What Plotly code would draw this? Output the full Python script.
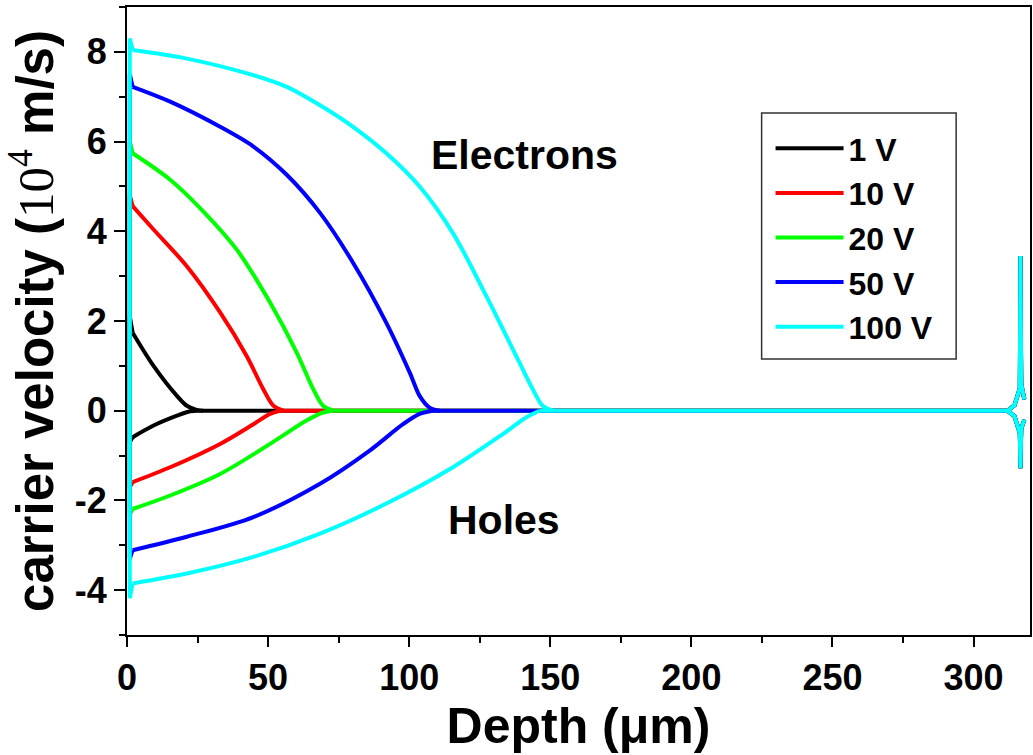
import plotly.graph_objects as go

labels = ["1 V", "10 V", "20 V", "50 V", "100 V"]
colors = ["#000000", "#ff0000", "#00ff00", "#0000ff", "#00ffff"]

# Electrons (depth in um, velocity in 1e4 m/s)
e1_x = [2.0, 9.4, 17.7, 21.2, 24.7, 27]
e1_y = [1.74, 1.0, 0.33, 0.11, 0.02, 0]
e10_x = [2.0, 9.4, 21.2, 33, 42.4, 48.3, 51.9, 55.4]
e10_y = [4.56, 4.04, 3.22, 2.19, 1.22, 0.48, 0.11, 0]
e20_x = [2.0, 15.3, 27.1, 38.9, 50.7, 60.1, 66, 69.5, 73.1]
e20_y = [5.74, 5.15, 4.44, 3.59, 2.41, 1.30, 0.48, 0.11, 0]
e50_x = [2.0, 15.3, 33, 44.8, 56.6, 68.4, 80.1, 91.9, 100.2, 103.7, 107.2, 110.8]
e50_y = [7.22, 6.89, 6.33, 5.89, 5.26, 4.41, 3.30, 1.96, 0.85, 0.33, 0.07, 0]
e100_x = [2.0, 21.2, 44.8, 56.6, 68.4, 80.1, 91.9, 103.7, 115.5, 127.3, 139.1, 143.8, 147.3, 150.9]
e100_y = [8.04, 7.85, 7.48, 7.22, 6.81, 6.33, 5.74, 5.0, 3.96, 2.56, 1.07, 0.48, 0.11, 0]

# Holes
h1_x = [2.0, 9.4, 17.7, 22.4, 25.9]
h1_y = [-0.59, -0.33, -0.11, -0.01, 0]
h10_x = [2.0, 15.3, 33, 44.8, 50.7, 54.2]
h10_y = [-1.59, -1.26, -0.74, -0.30, -0.07, 0]
h20_x = [2.0, 15.3, 33, 50.7, 63.6, 69.5, 73.1]
h20_y = [-2.19, -1.89, -1.41, -0.74, -0.22, -0.04, 0]
h50_x = [2.0, 21.2, 44.8, 68.4, 86, 97.8, 103.7, 108.4]
h50_y = [-3.11, -2.81, -2.37, -1.63, -0.89, -0.30, -0.07, 0]
h100_x = [2.0, 21.2, 44.8, 68.4, 91.9, 115.5, 133.2, 141.4, 146.1]
h100_y = [-3.85, -3.63, -3.26, -2.74, -2.07, -1.26, -0.52, -0.15, 0]

# values right at the front surface
edge_x = 1.0
e_edge = [2.1, 4.8, 6.0, 7.5, 8.3]
h_edge = [-0.7, -1.7, -2.3, -3.3, -4.18]

# end of flat region and back-contact feature
flat_end = 312
spike_x = [312, 314.5, 316.4, 316.6, 316.9, 318]
spike_e = [0, 0.12, 0.5, 3.45, 0.6, 0.25]
spike_h = [0, -0.12, -0.5, -1.28, -0.4, -0.2]

ex = [e1_x, e10_x, e20_x, e50_x, e100_x]
ey = [e1_y, e10_y, e20_y, e50_y, e100_y]
hx = [h1_x, h10_x, h20_x, h50_x, h100_x]
hy = [h1_y, h10_y, h20_y, h50_y, h100_y]

fig = go.Figure()
for i, lab in enumerate(labels):
    c = colors[i]
    fx = ([hx[i][0], edge_x, edge_x, ex[i][0], None]
          + [min(ex[i][-1], hx[i][-1]), flat_end, None]
          + spike_x[::-1] + spike_x)
    fy = ([hy[i][0], h_edge[i], e_edge[i], ey[i][0], None]
          + [0, 0, None]
          + spike_h[::-1] + spike_e)
    fig.add_trace(go.Scatter(x=fx, y=fy, mode="lines", showlegend=False, hoverinfo="skip",
                             legendgroup=lab, line=dict(color=c, width=4)))
    fig.add_trace(go.Scatter(x=hx[i], y=hy[i], mode="lines", showlegend=False, legendgroup=lab,
                             name=lab, line=dict(color=c, width=4, shape="spline", smoothing=0.9)))
    fig.add_trace(go.Scatter(x=ex[i], y=ey[i], mode="lines", name=lab, legendgroup=lab,
                             line=dict(color=c, width=4, shape="spline", smoothing=0.9)))

font_family = "Liberation Sans, Arial, sans-serif"

# legend frame in paper coordinates
fig.add_shape(type="rect", xref="paper", yref="paper",
              x0=0.7028, x1=0.9182, y0=0.4395, y1=0.8312,
              line=dict(color="#333333", width=1.5), fillcolor="rgba(0,0,0,0)")

fig.update_layout(
    width=1033, height=755,
    margin=dict(l=127, r=1, t=7, b=120),
    paper_bgcolor="white", plot_bgcolor="white",
    font=dict(family=font_family, color="black"),
    showlegend=True,
    legend=dict(x=0.7127, y=0.8185, xanchor="left", yanchor="top",
                borderwidth=0, bgcolor="rgba(0,0,0,0)", tracegroupgap=0,
                font=dict(size=32, family=font_family, weight="bold"),
                itemwidth=68),
    annotations=[
        dict(x=140.7, y=5.71, xref="x", yref="y", text="<b>Electrons</b>", showarrow=False,
             font=dict(size=41)),
        dict(x=133.7, y=-2.44, xref="x", yref="y", text="<b>Holes</b>", showarrow=False,
             font=dict(size=41)),
    ],
)

xt = [0, 50, 100, 150, 200, 250, 300]
yt = [-4, -2, 0, 2, 4, 6, 8]
fig.update_xaxes(range=[0, 320], tickvals=xt, ticktext=[str(v) for v in xt],
                 showline=True, linecolor="black", linewidth=2, mirror=True,
                 ticks="outside", ticklen=10, tickwidth=2, tickcolor="black",
                 minor=dict(ticks="outside", ticklen=6, tickwidth=2, dtick=25, tick0=0, tickcolor="black"),
                 showgrid=False, zeroline=False,
                 tickfont=dict(size=36, weight="bold"),
                 title=dict(text="<b>Depth (μm)</b>", font=dict(size=50), standoff=8))
fig.update_yaxes(range=[-5, 9], tickvals=yt, ticktext=[str(v) for v in yt],
                 showline=True, linecolor="black", linewidth=2, mirror=True,
                 ticks="outside", ticklen=11, tickwidth=2, tickcolor="black",
                 minor=dict(ticks="outside", ticklen=6, tickwidth=2, dtick=1, tick0=0, tickcolor="black"),
                 showgrid=False, zeroline=False,
                 tickfont=dict(size=36, weight="bold"),
                 title=dict(text="<b>carrier velocity (</b><span style='font-family:Liberation Serif'>10<sup>4</sup></span><b> m/s)</b>",
                            font=dict(size=51), standoff=6))

fig.write_html("out.html")
